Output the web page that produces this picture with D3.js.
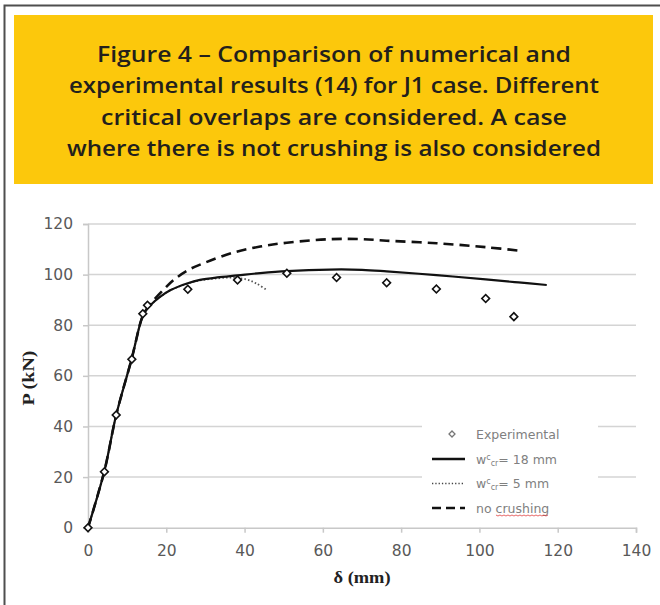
<!DOCTYPE html>
<html>
<head>
<meta charset="utf-8">
<script src="https://cdn.jsdelivr.net/npm/d3@7"></script>
<style>
  body { margin: 0; background: #fff; }
  svg { display: block; }
  .tick text { font-family: "DejaVu Sans", sans-serif; font-size: 15.5px; fill: #595959; }
  .legend text { font-family: "DejaVu Sans", sans-serif; font-size: 12.5px; fill: #808080; }
  .axis-label { font-family: "Liberation Serif", serif; font-weight: bold; font-size: 17px; fill: #222; }
  .title { font-family: "Open Sans", sans-serif; font-weight: 600; font-size: 21.5px; fill: #231f1c; }
</style>
</head>
<body>
<svg width="660" height="605"></svg>
<script>
// chart values
const titleLines = [
  'Figure 4 \u2013 Comparison of numerical and',
  'experimental results (14) for J1 case. Different',
  'critical overlaps are considered. A case',
  'where there is not crushing is also considered'
];
const titleWidths = [474, 530, 466, 534];

const xTicks = [0, 20, 40, 60, 80, 100, 120, 140];
const yTicks = [0, 20, 40, 60, 80, 100, 120];

// Experimental [delta mm, P kN]
const experimental = [
  [0, 0], [4.2, 22.1], [7.2, 44.5], [11.2, 66.6], [14.0, 84.5], [15.2, 87.9],
  [25.5, 94.2], [38.2, 97.9], [50.8, 100.5], [63.5, 98.9], [76.3, 96.8],
  [89.0, 94.3], [101.6, 90.6], [108.8, 83.4]
];

// wc_cr = 18 mm
const crit18 = [
  [0, 0], [4.2, 22.5], [7.2, 44.5], [11.2, 67], [13.6, 82], [14.6, 85.5],
  [16, 88], [18.4, 91.2], [21, 93.8], [25.5, 96.6], [28.6, 97.9], [33, 98.9],
  [38.2, 99.7], [44, 100.6], [50.8, 101.4], [61.8, 102.0], [70, 101.9],
  [76.3, 101.3], [89, 99.8], [101.6, 98.1], [110, 96.9], [117.2, 95.9]
];

// wc_cr = 5 mm
const crit5 = [
  [0, 0], [4.2, 22.5], [7.2, 44.5], [11.2, 67], [13.6, 82], [14.6, 85.5],
  [16, 88], [18.4, 91.2], [21, 93.8], [25.5, 96.5], [28.6, 97.7], [32.9, 98.5],
  [37, 98.8], [40.5, 98.1], [43, 96.5], [45.6, 94.0]
];

// no crushing
const noCrushing = [
  [0, 0], [4.2, 22.5], [7.2, 44.5], [11.2, 67], [13.6, 82], [14.6, 85.5],
  [16, 88.5], [19.2, 93.9], [22, 98], [25.6, 101.8], [30, 104.8], [37.1, 108.7],
  [44, 111.1], [50.8, 112.6], [61.8, 114.0], [70, 114.0], [76.3, 113.4],
  [89.1, 112.4], [101.9, 110.8], [111.2, 109.3]
];

const legendLabels = ['Experimental', '18 mm', '5 mm', 'no crushing'];

const svg = d3.select('svg');
const width = +svg.attr('width');
const height = +svg.attr('height');

// outer frame
svg.append('path')
  .attr('d', `M4.5,${height} V5.5 H${width}`)
  .attr('fill', 'none')
  .attr('stroke', '#4f4f4f')
  .attr('stroke-width', 2);

// title banner
svg.append('rect')
  .attr('x', 14).attr('y', 15)
  .attr('width', 639).attr('height', 169)
  .attr('fill', '#fcc80c');

svg.selectAll('.title').data(titleLines)
  .enter().append('text')
  .attr('class', 'title')
  .attr('x', 334)
  .attr('y', (d, i) => 62 + i * 31.3)
  .attr('text-anchor', 'middle')
  .attr('textLength', (d, i) => titleWidths[i])
  .attr('lengthAdjust', 'spacingAndGlyphs')
  .text(d => d);

// plot
const xScale = d3.scaleLinear().domain([0, 140]).range([88, 636]);
const yScale = d3.scaleLinear().domain([0, 120]).range([527.7, 224]);

const g = svg.append('g');

// gridlines
g.selectAll('.grid').data(yTicks.slice(1))
  .enter().append('line')
  .attr('class', 'grid')
  .attr('x1', xScale(0)).attr('x2', xScale(140))
  .attr('y1', d => yScale(d)).attr('y2', d => yScale(d))
  .attr('stroke', '#d4d4d4')
  .attr('stroke-width', 1.5);

const yAxis = d3.axisLeft(yScale).tickValues(yTicks).tickSize(5).tickPadding(10);
const yAxisG = g.append('g').attr('transform', `translate(${xScale(0)},0)`).call(yAxis);
yAxisG.selectAll('.domain').attr('stroke', '#c8c8c8').attr('stroke-width', 1.5);
yAxisG.selectAll('.tick line').attr('stroke', '#c8c8c8').attr('stroke-width', 1.5);

const xAxis = d3.axisBottom(xScale).tickValues(xTicks).tickSize(5).tickPadding(12);
const xAxisG = g.append('g').attr('transform', `translate(0,${yScale(0)})`).call(xAxis);
xAxisG.selectAll('.domain').attr('stroke', '#c8c8c8').attr('stroke-width', 1.5);
xAxisG.selectAll('.tick line').attr('stroke', '#c8c8c8').attr('stroke-width', 1.5);

// axis titles
svg.append('text')
  .attr('class', 'axis-label')
  .attr('transform', `translate(34,378) rotate(-90)`)
  .attr('text-anchor', 'middle')
  .attr('textLength', 55)
  .attr('lengthAdjust', 'spacingAndGlyphs')
  .text('P (kN)');

svg.append('text')
  .attr('class', 'axis-label')
  .attr('x', 362).attr('y', 583)
  .attr('text-anchor', 'middle')
  .attr('textLength', 57)
  .attr('lengthAdjust', 'spacingAndGlyphs')
  .text('\u03b4 (mm)');

// lines
const line = d3.line()
  .x(d => xScale(d[0]))
  .y(d => yScale(d[1]))
  .curve(d3.curveCatmullRom.alpha(0.5));

g.append('path').datum(crit5)
  .attr('d', line)
  .attr('fill', 'none')
  .attr('stroke', '#555')
  .attr('stroke-width', 1.8)
  .attr('stroke-dasharray', '1.5,2.2');

g.append('path').datum(noCrushing)
  .attr('d', line)
  .attr('fill', 'none')
  .attr('stroke', '#111')
  .attr('stroke-width', 2.6)
  .attr('stroke-dasharray', '10,6');

g.append('path').datum(crit18)
  .attr('d', line)
  .attr('fill', 'none')
  .attr('stroke', '#111')
  .attr('stroke-width', 2.2);

const diamond = d3.symbol().type(d3.symbolSquare).size(30);

g.selectAll('.pt').data(experimental)
  .enter().append('path')
  .attr('class', 'pt')
  .attr('d', diamond)
  .attr('transform', d => `translate(${xScale(d[0])},${yScale(d[1])}) rotate(45)`)
  .attr('fill', '#fff')
  .attr('stroke', '#111')
  .attr('stroke-width', 1.6);

// legend
const legend = svg.append('g').attr('class', 'legend');
legend.append('rect')
  .attr('x', 422).attr('y', 416)
  .attr('width', 176).attr('height', 104)
  .attr('fill', '#fff');

const rowY = [434, 459, 483.5, 508];

legend.append('path')
  .attr('d', d3.symbol().type(d3.symbolSquare).size(18))
  .attr('transform', `translate(452,${rowY[0]}) rotate(45)`)
  .attr('fill', '#fff')
  .attr('stroke', '#777')
  .attr('stroke-width', 1.3);

legend.append('line')
  .attr('x1', 432).attr('x2', 465).attr('y1', rowY[1]).attr('y2', rowY[1])
  .attr('stroke', '#111').attr('stroke-width', 2.4);

legend.append('line')
  .attr('x1', 432).attr('x2', 465).attr('y1', rowY[2]).attr('y2', rowY[2])
  .attr('stroke', '#444').attr('stroke-width', 1.5)
  .attr('stroke-dasharray', '1.3,2');

legend.append('line')
  .attr('x1', 432).attr('x2', 465).attr('y1', rowY[3]).attr('y2', rowY[3])
  .attr('stroke', '#111').attr('stroke-width', 2.6)
  .attr('stroke-dasharray', '9,5');

legend.append('text')
  .attr('x', 476).attr('y', rowY[0] + 4.5)
  .text(legendLabels[0]);

[1, 2].forEach(i => {
  const t = legend.append('text').attr('x', 476).attr('y', rowY[i] + 4.5);
  t.append('tspan').text('w');
  t.append('tspan').attr('font-size', '8px').attr('dy', -4).text('c');
  t.append('tspan').attr('font-size', '8px').attr('dy', 6).text('cr');
  t.append('tspan').attr('dy', -2).text('= ' + legendLabels[i]);
});

const noText = legend.append('text')
  .attr('x', 476).attr('y', rowY[3] + 4.5)
  .text(legendLabels[3]);

// spellcheck squiggle under "crushing"
const full = noText.node().getComputedTextLength();
const startX = 476 + full * 3 / 11;
const endX = 476 + full;
const pts = [];
for (let x = startX, k = 0; x <= endX; x += 2, k++) {
  pts.push([x, rowY[3] + 7 + (k % 2 ? 1 : 0)]);
}
legend.append('path')
  .attr('d', d3.line()(pts))
  .attr('fill', 'none')
  .attr('stroke', '#e04040')
  .attr('stroke-width', 0.8);
</script>
</body>
</html>
